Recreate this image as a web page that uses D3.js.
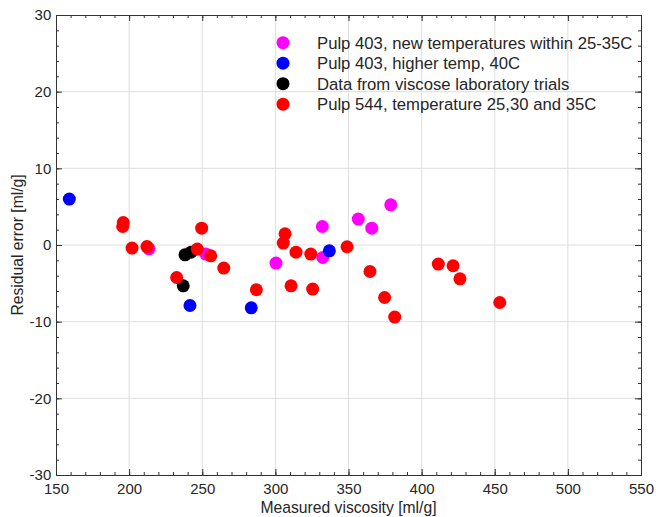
<!DOCTYPE html>
<html><head><meta charset="utf-8">
<script src="https://cdn.jsdelivr.net/npm/d3@7"></script>
<style>body{margin:0;background:#fff}svg{display:block}text{font-family:"Liberation Sans",Arial,sans-serif;fill:#262626}</style>
</head><body><svg id="c" width="656" height="517"></svg>
<script>
const seriesNames = ["Pulp 403, new temperatures within 25-35C","Pulp 403, higher temp, 40C","Data from viscose laboratory trials","Pulp 544, temperature 25,30 and 35C"];
const seriesColors = ["#ff00ff","#0000ff","#000000","#ff0000"];
const magentaX = [213.6,252.4,300.4,332.1,332.4,356.7,365.9,378.9];
const magentaY = [-0.50,-1.19,-2.36,2.41,-1.63,3.38,2.20,5.24];
const blueX = [159.1,241.6,283.5,336.9];
const blueY = [5.99,-7.89,-8.19,-0.76];
const blackX = [238.2,242.3,237.0];
const blackY = [-1.28,-0.93,-5.32];
const redX = [196.0,195.6,202.0,212.2,249.6,246.6,255.8,264.7,232.5,287.0,306.6,305.4,314.1,324.2,349.0,310.7,325.5,364.7,374.7,381.6,411.4,421.5,426.2,453.4];
const redY = [2.93,2.41,-0.40,-0.20,2.20,-0.53,-1.41,-3.01,-4.24,-5.84,1.46,0.25,-0.93,-1.19,-0.23,-5.32,-5.75,-3.46,-6.85,-9.40,-2.49,-2.71,-4.41,-7.50];
const xTicks = [150,200,250,300,350,400,450,500,550];
const yTicks = [-30,-20,-10,0,10,20,30];
const xLabel = "Measured viscosity [ml/g]";
const yLabel = "Residual error [ml/g]";

const W=656,H=517,m={l:56,r:15,t:15,b:42};
const svg=d3.select("#c");
const x=d3.scaleLinear().domain([150,550]).range([m.l,W-m.r]);
const y=d3.scaleLinear().domain([-30,30]).range([H-m.b,m.t]);

// grid
const g=svg.append("g");
g.selectAll(".gx").data(xTicks.slice(1,-1)).join("line").attr("x1",d=>x(d)).attr("x2",d=>x(d)).attr("y1",m.t).attr("y2",H-m.b).attr("stroke","#dedede");
g.selectAll(".gy").data(yTicks.slice(1,-1)).join("line").attr("y1",d=>y(d)).attr("y2",d=>y(d)).attr("x1",m.l).attr("x2",W-m.r).attr("stroke","#dedede");

// axes with inward ticks
const xMinor=d3.range(150,551,10), yMinor=d3.range(-30,31,2);
const fmt=d=>String(d);
function axes(){
  const col="#333";
  const bx=svg.append("g").attr("transform",`translate(0,${H-m.b})`).call(d3.axisBottom(x).tickValues(xMinor).tickSize(-3).tickFormat(""));
  const tx=svg.append("g").attr("transform",`translate(0,${m.t})`).call(d3.axisTop(x).tickValues(xMinor).tickSize(-3).tickFormat(""));
  const ly=svg.append("g").attr("transform",`translate(${m.l},0)`).call(d3.axisLeft(y).tickValues(yMinor).tickSize(-3).tickFormat(""));
  const ry=svg.append("g").attr("transform",`translate(${W-m.r},0)`).call(d3.axisRight(y).tickValues(yMinor).tickSize(-3).tickFormat(""));
  const bX=svg.append("g").attr("transform",`translate(0,${H-m.b})`).call(d3.axisBottom(x).tickValues(xTicks).tickSize(-6).tickPadding(12).tickFormat(fmt));
  const tX=svg.append("g").attr("transform",`translate(0,${m.t})`).call(d3.axisTop(x).tickValues(xTicks).tickSize(-6).tickFormat(""));
  const lY=svg.append("g").attr("transform",`translate(${m.l},0)`).call(d3.axisLeft(y).tickValues(yTicks).tickSize(-6).tickPadding(10).tickFormat(fmt));
  const rY=svg.append("g").attr("transform",`translate(${W-m.r},0)`).call(d3.axisRight(y).tickValues(yTicks).tickSize(-6).tickFormat(""));
  [bx,tx,ly,ry,bX,tX,lY,rY].forEach(a=>{a.selectAll("path,line").attr("stroke",col);a.selectAll("text").style("font-size","15px").attr("fill","#262626");});
  bX.selectAll("text").attr("dy","0.45em");
  lY.selectAll("text").attr("dx","0.35em");
}
axes();

// points
const series=[[magentaX,magentaY],[blueX,blueY],[blackX,blackY],[redX,redY]];
series.forEach((s,i)=>{
  const pts=s[0].map((v,j)=>[v,s[1][j]]);
  svg.append("g").selectAll("circle").data(pts).join("circle")
    .attr("cx",d=>x(d[0])).attr("cy",d=>y(d[1])).attr("r",6.5).attr("fill",seriesColors[i]);
});

// legend
const lg=svg.append("g");
seriesNames.forEach((n,i)=>{
  const yy=42.7+i*20.5;
  lg.append("circle").attr("cx",283).attr("cy",yy).attr("r",6.5).attr("fill",seriesColors[i]);
  lg.append("text").attr("x",317).attr("y",yy).attr("dy","0.35em").style("font-size","16.7px").text(n);
});

// titles
svg.append("text").attr("x",(m.l+W-m.r)/2).attr("y",513).attr("text-anchor","middle").style("font-size","15.7px").text(xLabel);
svg.append("text").attr("transform",`translate(23,${y(0)}) rotate(-90)`).attr("text-anchor","middle").style("font-size","15.7px").text(yLabel);
</script></body></html>
